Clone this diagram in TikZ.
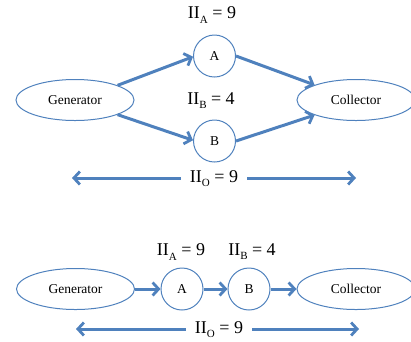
\documentclass[tikz,border=0pt]{standalone}
\usepackage{fontspec}
\setmainfont{Liberation Serif}
\usetikzlibrary{arrows.meta,shapes.geometric}
\definecolor{ablue}{HTML}{4F81BD}
\tikzset{
  ell/.style={draw=ablue, line width=1pt, ellipse, minimum width=118pt, minimum height=41pt, inner sep=0pt, font=\fontsize{13.5}{14}\selectfont},
  circ/.style={draw=ablue, line width=1pt, circle, minimum size=42pt, inner sep=0pt, font=\fontsize{13.5}{14}\selectfont},
  lbl/.style={font=\fontsize{18}{20}\selectfont, inner sep=1pt},
  olbl/.style={lbl, inner xsep=9pt},
  tip/.style={Straight Barb[length=6pt,width=13pt,line width=2.8pt]},
  conn/.style={draw=ablue, line width=3pt, -{Straight Barb[length=6pt,width=13pt,line width=2.8pt]}},
  lconn/.style={draw=ablue, line width=3pt, {Straight Barb[length=6pt,width=13pt,line width=2.8pt]}-}
}
\newcommand{\sbx}[1]{\raisebox{-0.5ex}{\fontsize{11}{11}\selectfont #1}}
\begin{document}
\begin{tikzpicture}[x=1pt,y=-1pt]
\useasboundingbox (0,0) rectangle (411,341);
\begin{scope}
\clip (0,0) rectangle (411,341);
% top diagram
\node[ell] (g1) at (75,100) {Generator};
\node[ell] (c1) at (356,100) {Collector};
\node[circ] (a1) at (214.5,56) {A};
\node[circ] (b1) at (214.5,141) {B};
\node[lbl] (la1) at (212,15) {II\sbx{A} = 9};
\node[lbl] (lb1) at (211,101) {II\sbx{B} = 4};
\node[olbl] (lo1) at (214,179) {II\sbx{O} = 9};
\coordinate (ol1) at (72,178);
\coordinate (or1) at (356,178);
\draw[conn] (g1.19) -- (a1.182);
\draw[conn] (g1.-19) -- (b1.178);
\draw[conn] (a1.east) -- (c1.160);
\draw[conn] (b1.east) -- (c1.200);
\draw[lconn] (ol1) -- (ol1 -| lo1.west);
\draw[conn] (or1 -| lo1.east) -- (or1);
% bottom diagram
\node[ell] (g2) at (75.5,289) {Generator};
\node[ell] (c2) at (356,289) {Collector};
\node[circ] (a2) at (182,289) {A};
\node[circ] (b2) at (249,289) {B};
\node[lbl] (la2) at (181,252) {II\sbx{A} = 9};
\node[lbl] (lb2) at (252,252) {II\sbx{B} = 4};
\node[olbl] (lo2) at (219,330) {II\sbx{O} = 9};
\coordinate (ol2) at (76,329);
\coordinate (or2) at (359,329);
\draw[conn] (g2) -- (a2);
\draw[conn] (a2) -- (b2);
\draw[conn] (b2) -- (c2);
\draw[lconn] (ol2) -- (ol2 -| lo2.west);
\draw[conn] (or2 -| lo2.east) -- (or2);
\end{scope}
\end{tikzpicture}
\end{document}
